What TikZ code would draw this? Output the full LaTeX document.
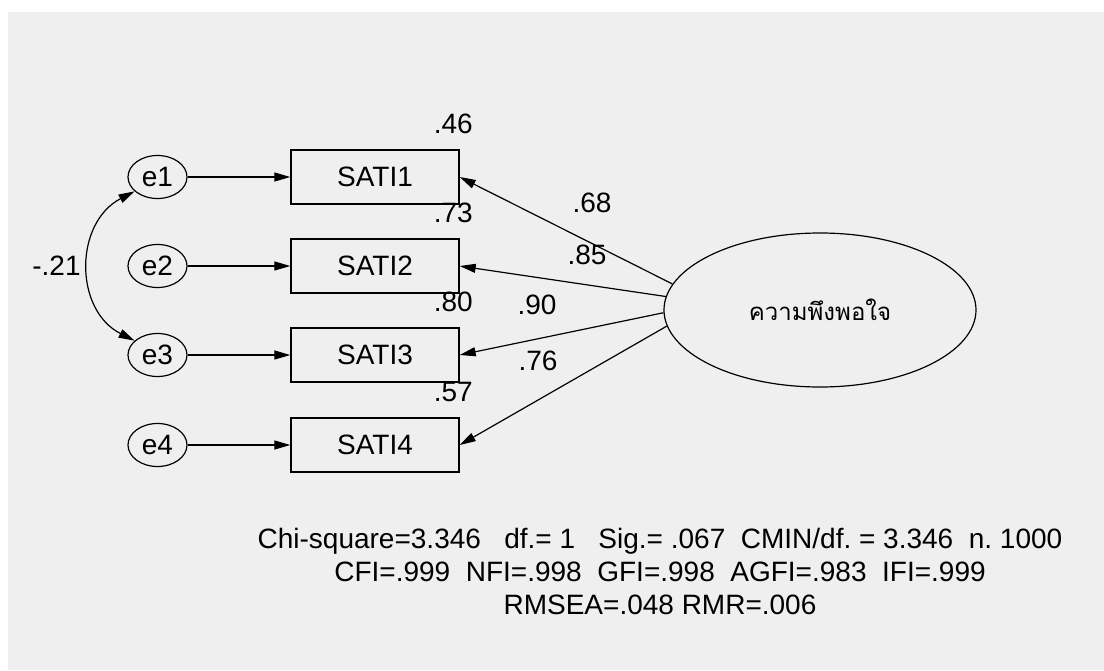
\documentclass[tikz,border=0pt]{standalone}
\usepackage{fontspec}
\setmainfont{Liberation Sans}
\newfontfamily\thaifont[Script=Thai]{Loma}
\usetikzlibrary{shapes.geometric,arrows.meta}
\definecolor{panelgray}{HTML}{EFEFEF}
\begin{document}
\begin{tikzpicture}[x=1pt,y=-1pt,font=\fontsize{28}{33}\selectfont,
  >={Triangle[length=16pt,width=9pt]},
  obs/.style={draw,line width=1.4pt,minimum width=168pt,minimum height=54pt,inner sep=0pt},
  err/.style={draw,ellipse,line width=1.2pt,minimum width=59pt,minimum height=43pt,inner sep=0pt},
  arr/.style={->,line width=1.2pt}]
\useasboundingbox (0,0) rectangle (1104,670);
\fill[panelgray] (8,12) rectangle (1104,670);
\foreach \i/\y/\r in {1/177/.46,2/266/.73,3/355/.80,4/445/.57} {
  \node[err] (e\i) at (157.5,\y) {e\i};
  \node[obs] (s\i) at (375,\y) {SATI\i};
  \node[anchor=east,inner sep=0pt] (r\i) at (473,\y-53) {\r};
  \draw[arr] (e\i) -- (s\i);
}
\node[draw,ellipse,line width=1.2pt,minimum width=312pt,minimum height=154pt,inner sep=0pt] (sat) at (820,310) {\thaifont\fontsize{24}{28}\selectfont ความพึงพอใจ};
\foreach \i/\a/\x/\y/\l in {1/170/592/203/.68,2/175/587/255/.85,3/181/537/305/.90,4/186/538/361/.76} {
  \draw[arr] (sat.\a) -- (s\i.east);
  \node (l\i) at (\x,\y) {\l};
}
\draw[<->,line width=1.2pt] (e1.212) .. controls (74,223) and (74,310) .. (e3.148);
\node (cov) at (56.5,266) {-.21};
\node[align=center] (fit) at (660,571) {Chi-square=3.346~~~df.=~1~~~Sig.=~.067~~CMIN/df.~=~3.346~~n.~1000\\CFI=.999~~NFI=.998~~GFI=.998~~AGFI=.983~~IFI=.999\\RMSEA=.048 RMR=.006};
\end{tikzpicture}
\end{document}
